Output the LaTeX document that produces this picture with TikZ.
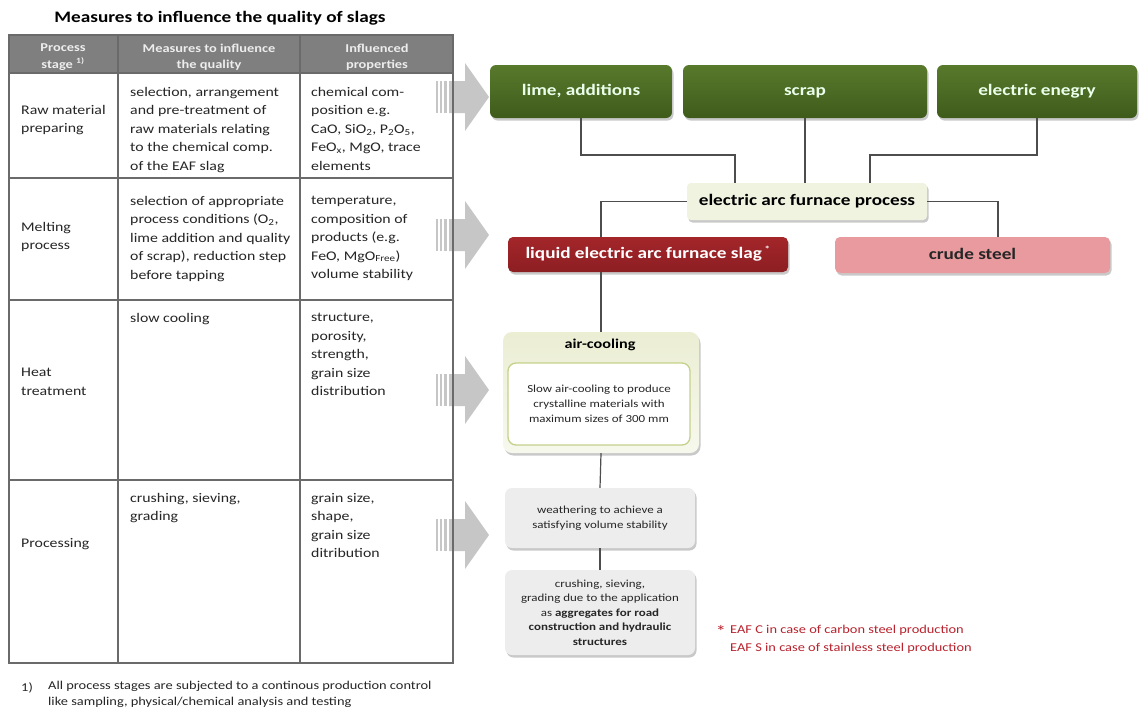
\documentclass[tikz,border=0pt]{standalone}
\usepackage{fontspec}
\setmainfont[FakeStretch=1.2]{Carlito}
\usetikzlibrary{shadows,calc}

\definecolor{rulegray}{HTML}{6A6A6A}
\definecolor{headgray}{HTML}{7F7F7F}
\definecolor{headtext}{HTML}{EDEDED}
\definecolor{bodytext}{HTML}{262626}
\definecolor{arrowgray}{HTML}{C6C6C6}
\definecolor{greentop}{HTML}{587A2C}
\definecolor{greenbot}{HTML}{3F5B1B}
\definecolor{slagred}{HTML}{A3262A}
\definecolor{slagredbot}{HTML}{8C1E22}
\definecolor{steelpink}{HTML}{E99A9E}
\definecolor{eafcream}{HTML}{F1F3E1}
\definecolor{aircream}{HTML}{EBEED3}
\definecolor{airborder}{HTML}{C5D08A}
\definecolor{boxgray}{HTML}{EDEDED}
\definecolor{linegray}{HTML}{4D4D4D}
\definecolor{notered}{HTML}{B8232E}

\tikzset{
  cell/.style={anchor=north west, inner sep=0pt, align=left, text=bodytext,
    font=\fontsize{13.2}{18.5}\selectfont},
  stagecell/.style={anchor=west, inner sep=0pt, align=left, text=bodytext,
    font=\fontsize{13.2}{18.5}\selectfont},
  headcell/.style={inner sep=0pt, align=center, text=headtext,
    font=\fontsize{12}{16.5}\selectfont\bfseries},
  boxshadow/.style={drop shadow={opacity=0.35, shadow xshift=1.5pt, shadow yshift=-2.5pt, fill=black!60}},
  bigtext/.style={font=\fontsize{16}{19}\selectfont\bfseries, text height=11.5pt, text depth=3.5pt},
  inputbox/.style={rounded corners=6pt, minimum height=53pt, text=white!92!green,
    top color=greentop, bottom color=greenbot, boxshadow, bigtext},
  eafbox/.style={rounded corners=4pt, fill=eafcream, minimum width=240pt, minimum height=37pt,
    boxshadow, bigtext},
  slagbox/.style={rounded corners=5pt, top color=slagred, bottom color=slagredbot, text=white,
    minimum height=35pt, boxshadow, bigtext},
  steelbox/.style={rounded corners=5pt, fill=steelpink, text=bodytext,
    minimum height=36pt, boxshadow, bigtext},
  stepbox/.style={rounded corners=7pt, fill=boxgray, text=bodytext, align=center,
    minimum width=190pt, boxshadow, font=\fontsize{10.8}{14.5}\selectfont},
  link/.style={draw=linegray, line width=1.2pt},
}

\begin{document}
\begin{tikzpicture}[x=1pt, y=-1pt]
\useasboundingbox (0,0) rectangle (1142,713);
\fill[white] (0,0) rectangle (1142,713);

% ---- title ----
\node[font=\fontsize{16}{19}\selectfont\bfseries, text=black] (title) at (220,18)
  {Measures to influence the quality of slags};

% ---- broad grey arrows from the table rows to the flow chart ----
\foreach \y [count=\i] in {97,235,390,535} {
  \fill[arrowgray] (449,\y-16) -- (465,\y-16) -- (465,\y-34) -- (489,\y)
    -- (465,\y+34) -- (465,\y+16) -- (449,\y+16) -- cycle;
  \fill[arrowgray] (436,\y-16) rectangle (437.5,\y+16);
  \fill[arrowgray] (439.5,\y-16) rectangle (441.5,\y+16);
  \fill[arrowgray] (443.5,\y-16) rectangle (446.5,\y+16);
}

% ---- table ----
\fill[headgray] (9,35) rectangle (453,73);
\draw[rulegray, line width=2pt] (9,35) rectangle (453,663);
\foreach \yy in {73,178,300,480} \draw[rulegray, line width=1.6pt] (9,\yy) -- (453,\yy);
\foreach \xx in {118,300} \draw[rulegray, line width=1.6pt] (\xx,35) -- (\xx,663);

\node[headcell] (h1) at (63,57) {Process\\stage \textsuperscript{1)}};
\node[headcell] (h2) at (209,57) {Measures to influence\\the quality};
\node[headcell] (h3) at (377,57) {Influenced\\properties};

% row 1
\node[stagecell] (s1) at (21,120) {Raw material\\preparing};
\node[cell] (m1) at (130,87) {selection, arrangement\\and pre-treatment of\\raw materials relating\\to the chemical comp.\\of the EAF slag};
\node[cell] (p1) at (311,87) {chemical com-\\position e.g.\\CaO, SiO\textsubscript{2}, P\textsubscript{2}O\textsubscript{5},\\FeO\textsubscript{x}, MgO, trace\\elements};
% row 2
\node[stagecell] (s2) at (21,237) {Melting\\process};
\node[cell] (m2) at (130,196) {selection of appropriate\\process conditions (O\textsubscript{2},\\lime addition and quality\\of scrap), reduction step\\before tapping};
\node[cell] (p2) at (311,196) {temperature,\\composition of\\products (e.g.\\FeO, MgO\textsubscript{Free})\\volume stability};
% row 3
\node[stagecell] (s3) at (21,382) {Heat\\treatment};
\node[cell] (m3) at (130,313) {slow cooling};
\node[cell] (p3) at (311,313) {structure,\\porosity,\\strength,\\grain size\\distribution};
% row 4
\node[stagecell] (s4) at (21,544) {Processing};
\node[cell] (m4) at (130,493) {crushing, sieving,\\grading};
\node[cell] (p4) at (311,493) {grain size,\\shape,\\grain size\\ditribution};

% footnote of the table
\node[anchor=west, inner sep=0pt, text=bodytext, font=\fontsize{12}{16}\selectfont] (fn1) at (21,688) {1)};
\node[anchor=north west, inner sep=0pt, align=left, text=bodytext, font=\fontsize{12}{16}\selectfont]
  (fn2) at (48,681) {All process stages are subjected to a continous production control\\like sampling, physical/chemical analysis and testing};

% ---- flow chart ----
\node[inputbox, minimum width=182pt] (lime) at (581,91.5) {lime, additions};
\node[inputbox, minimum width=244pt] (scrap) at (805,91.5) {scrap};
\node[inputbox, minimum width=200pt] (elec) at (1037,91.5) {electric enegry};

\node[eafbox] (eaf) at (807,201.5) {electric arc furnace process};

\node[slagbox, minimum width=280pt] (slag) at (648,254.5)
  {liquid electric arc furnace slag\,\textsuperscript{\fontsize{9}{9}\selectfont *}};
\node[steelbox, minimum width=275pt] (steel) at (972.5,255) {crude steel};

% air-cooling block with inner description box
\node[rounded corners=9pt, top color=aircream, bottom color=aircream!40!white,
      minimum width=196pt, minimum height=121pt, boxshadow] (air) at (601,392.5) {};
\node[font=\fontsize{13.5}{16}\selectfont\bfseries, text=black] (airtitle) at (600,345) {air-cooling};
\node[rounded corners=8pt, draw=airborder, line width=1.3pt, fill=white, align=center,
      minimum width=182pt, minimum height=82pt, text=bodytext,
      font=\fontsize{10.8}{15}\selectfont] (airtext) at (599,404)
  {Slow air-cooling to produce\\crystalline materials with\\maximum sizes of 300 mm};

\node[stepbox, minimum height=60pt] (weather) at (600,518)
  {weathering to achieve a\\satisfying volume stability};
\node[stepbox, minimum height=85pt] (crush) at (600,612.5)
  {crushing, sieving,\\grading due to the application\\as \textbf{aggregates for road}\\\textbf{construction and hydraulic}\\\textbf{structures}};

% junction points of the feed lines
\coordinate (jl) at (735,155);
\coordinate (jr) at (870,155);
\coordinate (js) at (998,0);

\draw[link] (lime.south) |- (jl) -- (jl |- eaf.north);
\draw[link] (scrap.south) -- (scrap.south |- eaf.north);
\draw[link] (elec.south) |- (jr) -- (jr |- eaf.north);
\draw[link] (eaf.west) -| (air.north |- slag.north);
\draw[link] (eaf.east) -| (js |- steel.north);
\draw[link] (air.north |- slag.south) -- (air.north);
\draw[link] (air.south) -- (weather.north);
\draw[link] (weather.south) -- (crush.north);

% note on the slag types
\node[text=notered, font=\fontsize{17}{17}\selectfont, inner sep=0pt] (star) at (721,631) {*};
\node[anchor=north west, inner sep=0pt, align=left, text=notered, font=\fontsize{12}{18}\selectfont]
  (note) at (730,625) {EAF C in case of carbon steel production\\EAF S in case of stainless steel production};
\end{tikzpicture}
\end{document}
